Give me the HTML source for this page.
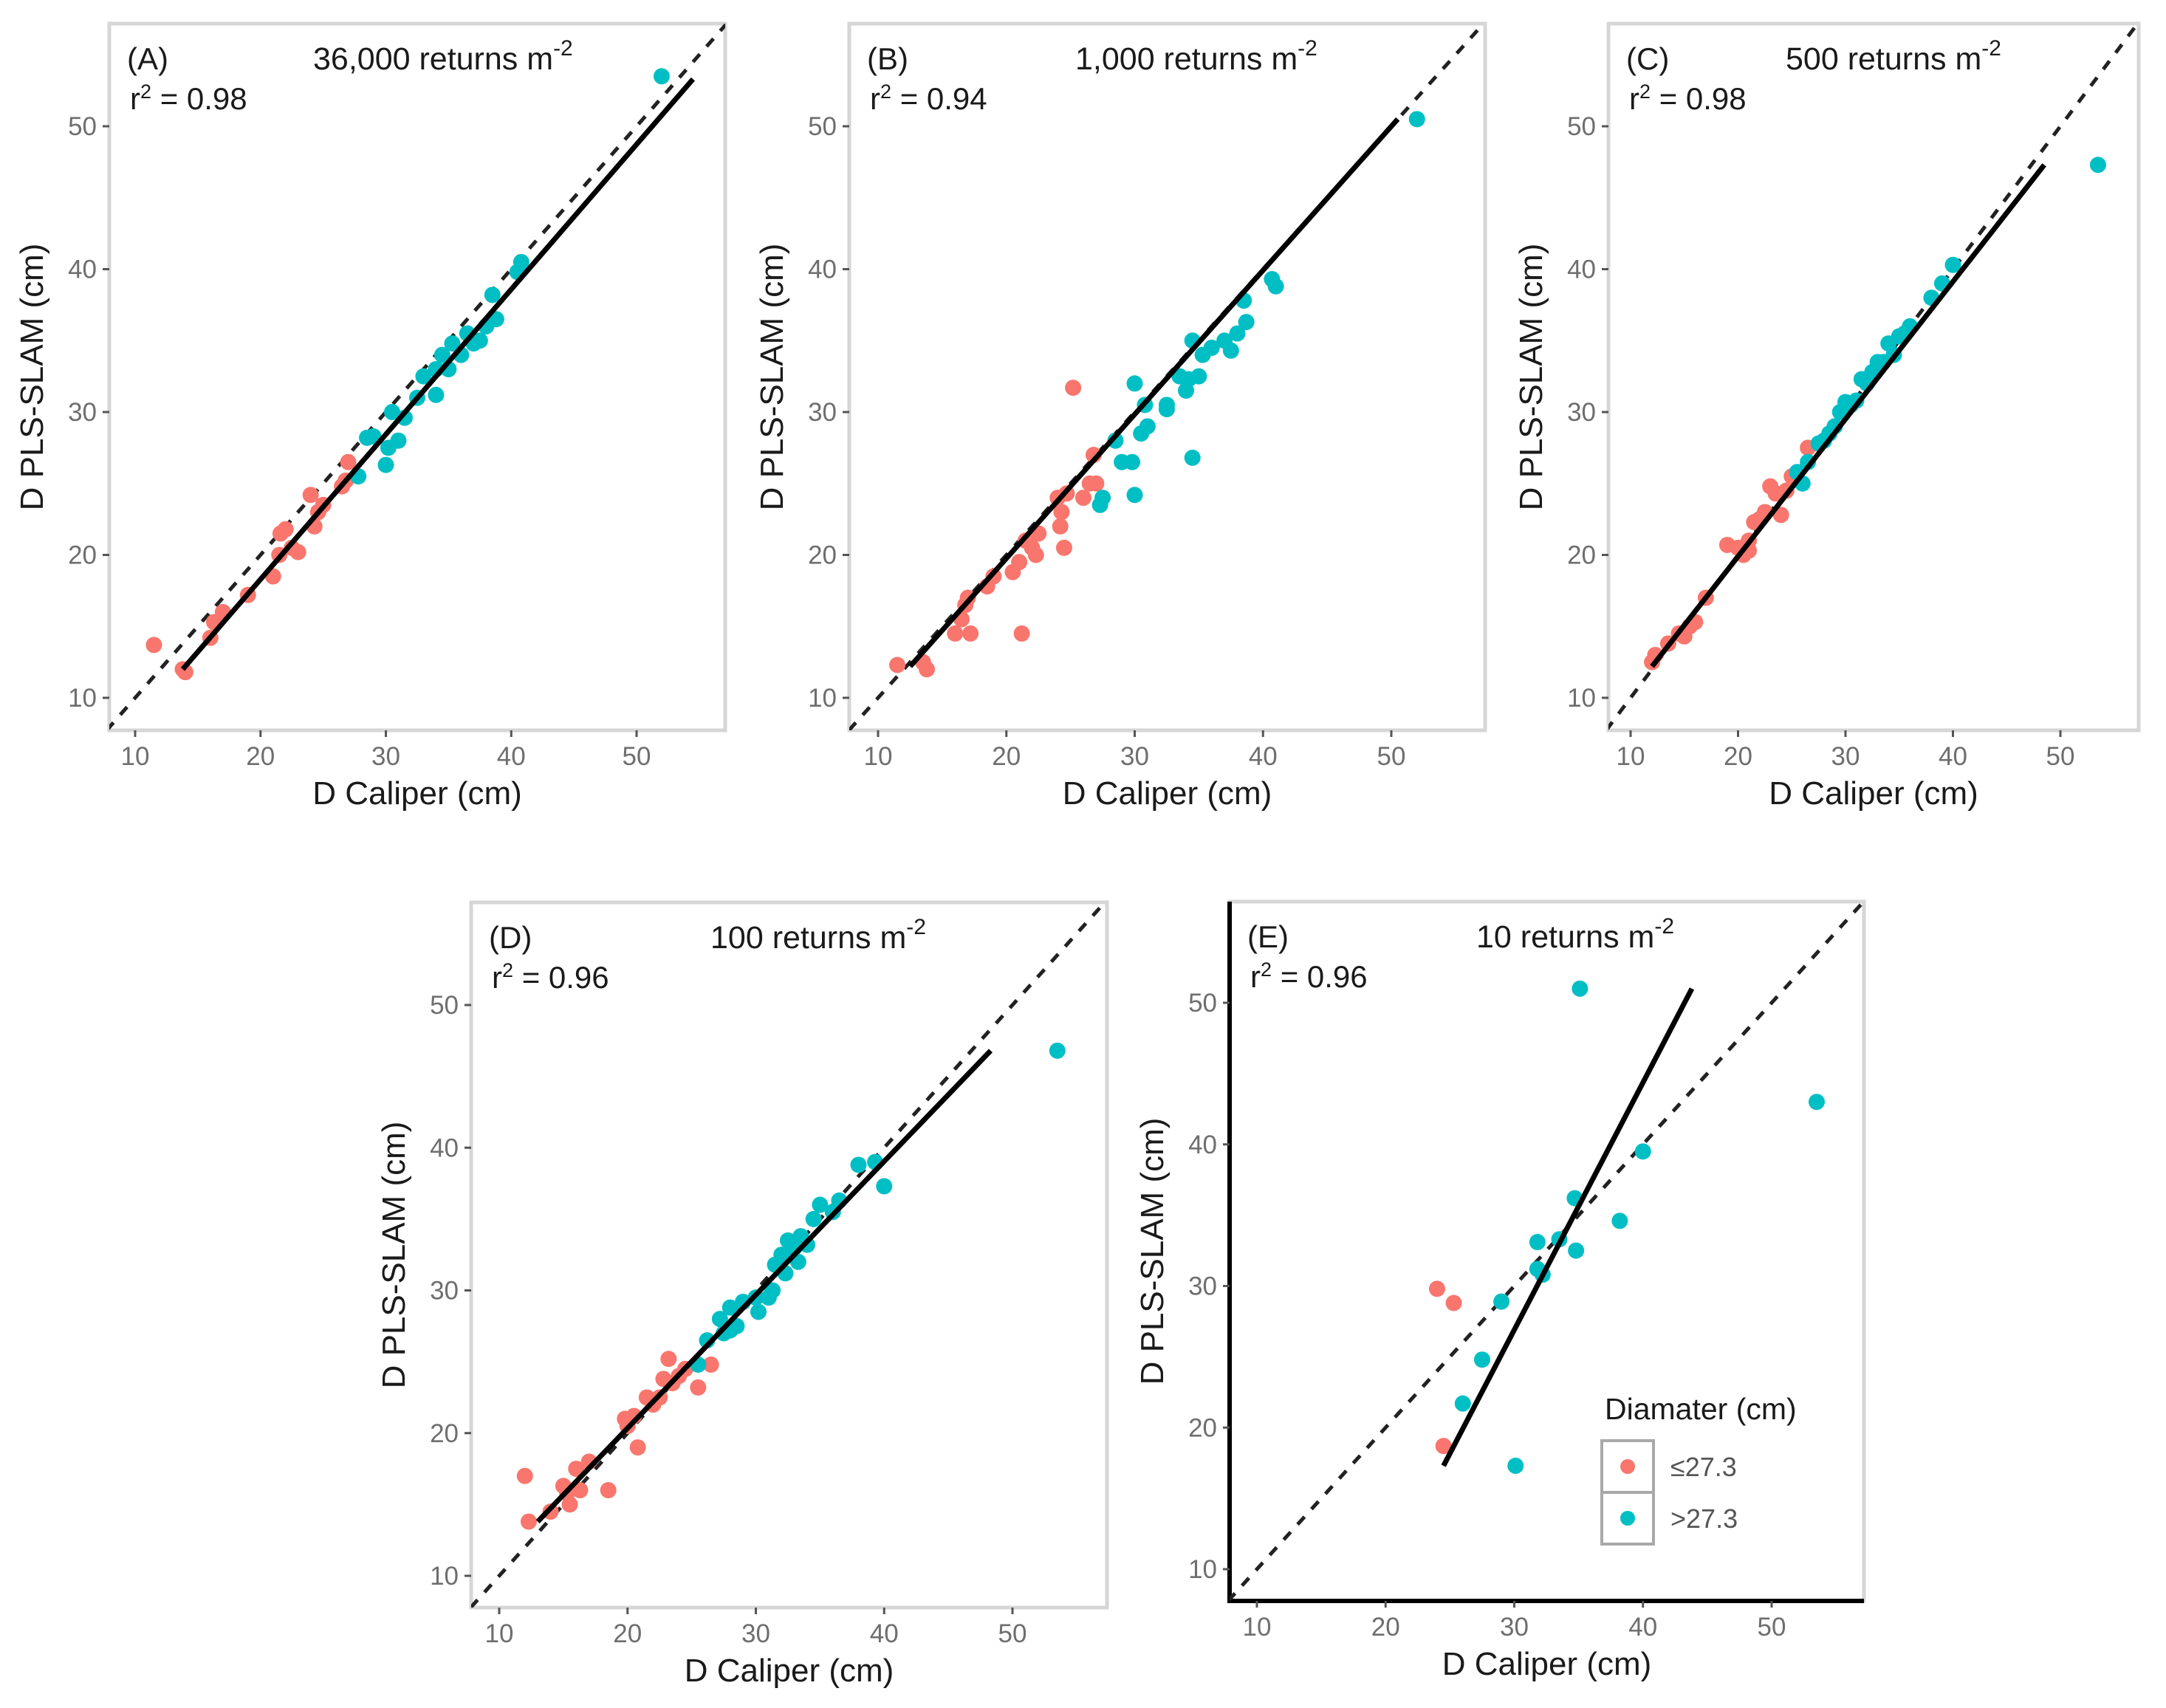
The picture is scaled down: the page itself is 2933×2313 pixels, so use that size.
<!DOCTYPE html>
<html><head><meta charset="utf-8"><style>
html,body{margin:0;padding:0;background:#fff;}
svg{display:block;font-family:"Liberation Sans",sans-serif;}
</style></head><body>
<svg id="fig" width="2933" height="2313" viewBox="0 0 2933 2313" xmlns="http://www.w3.org/2000/svg"></svg>
<script>
// ---- data arrays (caliper x, PLS-SLAM y) ----
const ticks = [10, 20, 30, 40, 50];
const panelLabels = ["(A)", "(B)", "(C)", "(D)", "(E)"];
const densities = ["36,000", "1,000", "500", "100", "10"];
const r2Values = ["0.98", "0.94", "0.98", "0.96", "0.96"];

const aRedX = [11.5,13.8,14,16,16.3,17,19,21,21.5,21.6,22,22.5,23,24,24.3,24.6,25,26.5,27,26.8];
const aRedY = [13.7,12,11.8,14.2,15.3,16,17.2,18.5,20,21.5,21.8,20.5,20.2,24.2,22,23,23.5,24.8,26.5,25.2];
const aCyanX = [27.8,28.5,29,30,30.2,30.5,31,31.5,32.5,33,34,34,34.5,35,35.3,36,36.5,37,37.5,38,38.5,38.8,40.5,40.8,52];
const aCyanY = [25.5,28.2,28.3,26.3,27.5,30,28,29.6,31,32.5,31.2,33,34,33,34.8,34,35.5,34.8,35,36,38.2,36.5,39.8,40.5,53.5];
const aFitX = [13.8,54.5]; const aFitY = [12,53.3];

const bRedX = [11.5,13.5,13.8,16,16.5,16.8,17,17.2,18.5,19,20.5,21,21.2,21.5,22,22.5,22.3,24,24.2,24.3,24.5,24.7,25.2,26,26.5,27,26.8];
const bRedY = [12.3,12.5,12,14.5,15.5,16.5,17,14.5,17.8,18.5,18.8,19.5,14.5,21,20.5,21.5,20,24,22,23,20.5,24.3,31.7,24,25,25,27];
const bCyanX = [27.3,27.5,28.5,29,29.8,30,30,30.5,30.8,31,32.5,32.5,33.5,34,34.2,34.5,34.5,35,35.3,36,37,37.5,38,38.5,38.7,40.7,41,52];
const bCyanY = [23.5,24,28,26.5,26.5,32,24.2,28.5,30.5,29,30.5,30.2,32.5,31.5,32.3,26.8,35,32.5,34,34.5,35,34.3,35.5,37.8,36.3,39.3,38.8,50.5];
const bFitX = [12.5,50.5]; const bFitY = [12.2,50.5];

const cRedX = [12,12.3,13.5,14.5,15,15.5,16,17,19,20,20.5,21,21,21.5,22,22.5,23,23.5,24,24.5,25,26.5];
const cRedY = [12.5,13,13.8,14.5,14.3,15,15.3,17,20.7,20.5,20,20.3,21,22.3,22.5,23,24.8,24.3,22.8,24.5,25.5,27.5];
const cCyanX = [25.5,26,26.5,27.5,28,28.5,29,29.5,30,30.5,31,31.5,32,32.5,33,33.5,34,34.5,35,35.5,36,38,39,40,53.5];
const cCyanY = [25.8,25,26.5,27.8,28,28.5,29,30,30.7,30.5,30.8,32.3,32,32.8,33.5,33.5,34.8,34,35.3,35.5,36,38,39,40.3,47.3];
const cFitX = [12,48.5]; const cFitY = [12.2,47.3];

const dRedX = [12,12.3,14,15,15.5,15.3,16,16.3,17,18.5,19.8,20,20.5,20.8,21.5,22,22.5,22.8,23.2,23.5,24,24.5,25.5,26.5];
const dRedY = [17,13.8,14.5,16.3,15,15.8,17.5,16,18,16,21,20.5,21.2,19,22.5,22,22.5,23.8,25.2,23.5,24,24.5,23.2,24.8];
const dCyanX = [25.5,26.2,27.2,27.5,28,28,28.5,29,30,30.2,31,31.3,31.5,32,32.3,32.5,33,33.3,33.5,34,34.5,35,36,36.5,38,39.3,40,53.5];
const dCyanY = [24.8,26.5,28,27,28.8,27.2,27.5,29.2,29.5,28.5,29.5,30,31.8,32.5,31.2,33.5,33,32,33.8,33.2,35,36,35.5,36.3,38.8,39,37.3,46.8];
const dFitX = [13,48.3]; const dFitY = [13.8,46.8];

const eRedX = [24,25.3,24.5];
const eRedY = [29.8,28.8,18.7];
const eCyanX = [26,27.5,29,30.1,31.8,31.8,32.2,33.5,34.7,34.8,35.1,38.2,40,53.5];
const eCyanY = [21.7,24.8,28.9,17.3,33.1,31.2,30.8,33.3,36.2,32.5,51,34.6,39.5,43];
const eFitX = [24.5,43.8]; const eFitY = [17.3,51];

const RED = "#F8766D", CYAN = "#00BFC4";
const svg = document.getElementById('fig');
const NS = "http://www.w3.org/2000/svg";
function mk(tag, attrs, parent){
  const e = document.createElementNS(NS, tag);
  for (const k in attrs) e.setAttribute(k, attrs[k]);
  (parent||svg).appendChild(e);
  return e;
}

const layouts = [
  {l:148,t:32,r:982,b:989,x10:183,x50:862,y50:171,y10:945,tx:424},
  {l:1150,t:32,r:2011,b:989,x10:1189,x50:1884,y50:171,y10:945,tx:1456},
  {l:2178,t:32,r:2896,b:989,x10:2208,x50:2790,y50:171,y10:945,tx:2418},
  {l:638,t:1222,r:1499,b:2177,x10:676,x50:1371,y50:1361,y10:2134,tx:962},
  {l:1665,t:1221,r:2524,b:2168,x10:1702,x50:2399,y50:1358,y10:2125,tx:1999}
];
const series = [
  [aRedX,aRedY,aCyanX,aCyanY,aFitX,aFitY],
  [bRedX,bRedY,bCyanX,bCyanY,bFitX,bFitY],
  [cRedX,cRedY,cCyanX,cCyanY,cFitX,cFitY],
  [dRedX,dRedY,dCyanX,dCyanY,dFitX,dFitY],
  [eRedX,eRedY,eCyanX,eCyanY,eFitX,eFitY]
];
const letters = ["a","b","c","d","e"];

layouts.forEach((L, i) => {
  const g = mk('g', {});
  
  
  const sx = v => L.x10 + (v - 10) * (L.x50 - L.x10) / 40;
  const sy = v => L.y10 - (v - 10) * (L.y10 - L.y50) / 40;
  const invx = p => 10 + (p - L.x10) * 40 / (L.x50 - L.x10);
  const invy = p => 10 + (L.y10 - p) * 40 / (L.y10 - L.y50);

  const clipId = 'clip' + i;
  const cp = mk('clipPath', {id: clipId}, g);
  mk('rect', {x:L.l, y:L.t, width:L.r-L.l, height:L.b-L.t}, cp);

  const border = mk('rect', {x:L.l, y:L.t, width:L.r-L.l, height:L.b-L.t, fill:'#fff', stroke:'#d6d6d6', 'stroke-width':5}, g);
  
  
  if (i === 4) {
    const ax = mk('path', {d:`M${L.l},${L.t} V${L.b} H${L.r}`, fill:'none', stroke:'#000', 'stroke-width':6}, g);
    
    
  }

  ticks.forEach(t => {
    const xt = mk('line', {x1:sx(t), x2:sx(t), y1:L.b, y2:L.b+9, stroke:'#555', 'stroke-width':3}, g);
    
    
    const xl = mk('text', {x:sx(t), y:L.b+47, 'text-anchor':'middle', 'font-size':35, fill:'#6e6e6e'}, g);
    xl.textContent = t;
    
    
    const yt = mk('line', {x1:L.l-9, x2:L.l, y1:sy(t), y2:sy(t), stroke:'#555', 'stroke-width':3}, g);
    
    
    const yl = mk('text', {x:L.l-17, y:sy(t)+12, 'text-anchor':'end', 'font-size':35, fill:'#6e6e6e'}, g);
    yl.textContent = t;
    
    
  });

  const xTitle = mk('text', {x:(L.l+L.r)/2, y:L.b+100, 'text-anchor':'middle', 'font-size':44, fill:'#1a1a1a'}, g);
  xTitle.textContent = 'D Caliper (cm)';
  
  
  const ycx = L.l - 90, ycy = (L.t + L.b) / 2;
  const yTitle = mk('text', {x:ycx, y:ycy, 'text-anchor':'middle', 'font-size':44, fill:'#1a1a1a', transform:`rotate(-90 ${ycx} ${ycy})`}, g);
  yTitle.textContent = 'D PLS-SLAM (cm)';
  
  

  const plot = mk('g', {'clip-path':`url(#${clipId})`}, g);
  const lo = Math.min(invx(L.l), invy(L.b)), hi = Math.max(invx(L.r), invy(L.t));
  const one = mk('line', {x1:sx(lo), y1:sy(lo), x2:sx(hi), y2:sy(hi), stroke:'#222', 'stroke-width':5, 'stroke-dasharray':'14 14'}, plot);
  
  

  const [rx, ry, cx, cy, fx, fy] = series[i];
  rx.forEach((v, k) => {
    const c = mk('circle', {cx:sx(v), cy:sy(ry[k]), r:11, fill:RED}, plot);
    
    
  });
  cx.forEach((v, k) => {
    const c = mk('circle', {cx:sx(v), cy:sy(cy[k]), r:11, fill:CYAN}, plot);
    
    
  });
  const fit = mk('line', {x1:sx(fx[0]), y1:sy(fy[0]), x2:sx(fx[1]), y2:sy(fy[1]), stroke:'#000', 'stroke-width':7}, plot);
  
  

  const pl = mk('text', {x:L.l+24, y:L.t+62, 'font-size':42, fill:'#1a1a1a'}, g);
  pl.textContent = panelLabels[i];
  
  
  const r2 = mk('text', {x:L.l+28, y:L.t+116, 'font-size':42, fill:'#1a1a1a'}, g);
  r2.innerHTML = 'r<tspan font-size="27" dy="-15">2</tspan><tspan dy="15"> = ' + r2Values[i] + '</tspan>';
  
  
  const tt = mk('text', {x:L.tx, y:L.t+62, 'font-size':43, fill:'#1a1a1a'}, g);
  tt.innerHTML = densities[i] + ' returns m<tspan font-size="30" dy="-19">-2</tspan>';
  
  
});

const lg = mk('g', {});


const lt = mk('text', {x:2173, y:1922, 'font-size':41, fill:'#1a1a1a'}, lg);
lt.textContent = 'Diamater (cm)';


const legendItems = ["\u226427.3", ">27.3"];
const legendColors = [RED, CYAN];
legendItems.forEach((lab, k) => {
  const y0 = 1951 + k * 70;
  const bx = mk('rect', {x:2169, y:y0, width:70, height:70, fill:'#fff', stroke:'#a9a9a9', 'stroke-width':4}, lg);
  
  
  const d = mk('circle', {cx:2204, cy:y0+35, r:10, fill:legendColors[k]}, lg);
  
  
  const t = mk('text', {x:2262, y:y0+48, 'font-size':36, fill:'#555'}, lg);
  t.textContent = lab;
  
  
});
</script>
</body></html>
